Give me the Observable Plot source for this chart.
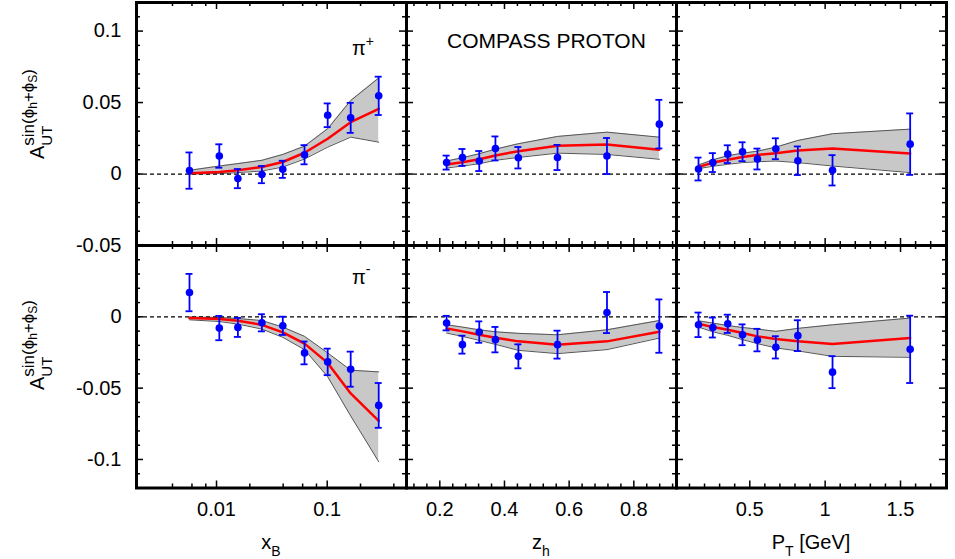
<!DOCTYPE html>
<html><head><meta charset="utf-8">
<script src="https://cdn.jsdelivr.net/npm/d3@7"></script>
<script src="https://cdn.jsdelivr.net/npm/@observablehq/plot@0.6"></script>
<style>
body{margin:0;background:#fff;}
#chart{position:relative;width:955px;height:559px;font-family:"Liberation Sans",Arial,sans-serif;}
#chart svg{position:absolute;left:0;top:0;}
</style></head><body><div id="chart"></div>
<script>
// ---------- data ----------
const xB = [0.0057, 0.0106, 0.0156, 0.0257, 0.0397, 0.0624, 0.101, 0.163, 0.292];
const zh = [0.221, 0.270, 0.322, 0.372, 0.443, 0.564, 0.717, 0.879];
const pT = [0.160, 0.255, 0.354, 0.452, 0.551, 0.673, 0.819, 1.049, 1.564];

// pi+ (top row)
const pipXbVal = [0.0024, 0.0126, -0.0032, -0.0004, 0.0033, 0.0135, 0.0411, 0.0393, 0.0547];
const pipXbErr = [0.0127, 0.0082, 0.0067, 0.0060, 0.0060, 0.0067, 0.0083, 0.0105, 0.0134];
const pipXbFit = [0.0005, 0.0014, 0.0026, 0.0049, 0.0084, 0.0149, 0.0247, 0.0363, 0.0456];
const pipXbHi  = [0.0026, 0.0056, 0.0073, 0.0096, 0.0137, 0.0195, 0.0317, 0.0514, 0.0672];
const pipXbLo  = [0.0000, 0.0003, 0.0010, 0.0021, 0.0049, 0.0105, 0.0188, 0.0258, 0.0223];

const pipZhVal = [0.0080, 0.0116, 0.0091, 0.0179, 0.0114, 0.0116, 0.0126, 0.0349];
const pipZhErr = [0.0049, 0.0059, 0.0070, 0.0084, 0.0075, 0.0088, 0.0126, 0.0170];
const pipZhFit = [0.0066, 0.0082, 0.0103, 0.0130, 0.0160, 0.0198, 0.0207, 0.0170];
const pipZhHi  = [0.0091, 0.0114, 0.0142, 0.0174, 0.0212, 0.0263, 0.0293, 0.0258];
const pipZhLo  = [0.0042, 0.0056, 0.0072, 0.0096, 0.0116, 0.0146, 0.0137, 0.0103];

const pipPtVal = [0.0035, 0.0080, 0.0139, 0.0156, 0.0105, 0.0177, 0.0093, 0.0026, 0.0209];
const pipPtErr = [0.0080, 0.0066, 0.0062, 0.0066, 0.0073, 0.0073, 0.0100, 0.0106, 0.0215];
const pipPtFit = [0.0049, 0.0080, 0.0100, 0.0119, 0.0133, 0.0146, 0.0165, 0.0179, 0.0144];
const pipPtHi  = [0.0063, 0.0100, 0.0128, 0.0146, 0.0160, 0.0188, 0.0235, 0.0282, 0.0314];
const pipPtLo  = [0.0038, 0.0054, 0.0068, 0.0080, 0.0086, 0.0091, 0.0080, 0.0056, 0.0010];

// pi- (bottom row)
const pimXbVal = [0.0170, -0.0079, -0.0074, -0.0042, -0.0063, -0.0253, -0.0316, -0.0367, -0.0621];
const pimXbErr = [0.0131, 0.0085, 0.0067, 0.0060, 0.0064, 0.0080, 0.0093, 0.0123, 0.0157];
const pimXbFit = [-0.0009, -0.0016, -0.0028, -0.0056, -0.0109, -0.0188, -0.0323, -0.0537, -0.0730];
const pimXbHi  = [-0.0002, -0.0005, -0.0012, -0.0026, -0.0072, -0.0137, -0.0253, -0.0374, -0.0386];
const pimXbLo  = [-0.0021, -0.0033, -0.0051, -0.0086, -0.0144, -0.0230, -0.0420, -0.0695, -0.1016];

const pimZhVal = [-0.0044, -0.0195, -0.0107, -0.0160, -0.0277, -0.0195, 0.0030, -0.0065];
const pimZhErr = [0.0051, 0.0063, 0.0075, 0.0089, 0.0084, 0.0098, 0.0144, 0.0187];
const pimZhFit = [-0.0081, -0.0102, -0.0126, -0.0146, -0.0172, -0.0195, -0.0172, -0.0105];
const pimZhHi  = [-0.0056, -0.0072, -0.0091, -0.0105, -0.0116, -0.0126, -0.0091, -0.0026];
const pimZhLo  = [-0.0114, -0.0137, -0.0165, -0.0193, -0.0235, -0.0258, -0.0230, -0.0149];

const pimPtVal = [-0.0056, -0.0075, -0.0049, -0.0126, -0.0163, -0.0214, -0.0132, -0.0388, -0.0228];
const pimPtErr = [0.0086, 0.0070, 0.0064, 0.0073, 0.0079, 0.0078, 0.0108, 0.0112, 0.0236];
const pimPtFit = [-0.0049, -0.0072, -0.0091, -0.0114, -0.0137, -0.0156, -0.0172, -0.0190, -0.0149];
const pimPtHi  = [-0.0028, -0.0044, -0.0061, -0.0075, -0.0086, -0.0102, -0.0081, -0.0056, -0.0009];
const pimPtLo  = [-0.0072, -0.0105, -0.0130, -0.0160, -0.0188, -0.0218, -0.0239, -0.0277, -0.0284];

// tick labels
const xbTickLabels = [0.01, 0.1];
const xbMinorTicks = [0.004, 0.006, 0.008, 0.02, 0.04, 0.06, 0.08, 0.2, 0.4];
const zhTickLabels = [0.2, 0.4, 0.6, 0.8];
const ptTickLabels = [0.5, 1, 1.5];
const yTopTickLabels = [0.1, 0.05, 0, -0.05];
const yBotTickLabels = [0, -0.05, -0.1];

// ---------- layout ----------
const W = 955, H = 559;
const colX = [136, 406, 676, 946];
const rowY = [2, 245, 487.5];
const BLUE = "#0000ff", RED = "#ff0000", BAND = "#c8c8c8";
const FONT = '"Liberation Sans", Arial, sans-serif';

const zhMinor = d3.range(0.12, 0.93, 0.04).filter(v => Math.abs((v * 5) - Math.round(v * 5)) > 1e-6);
const ptMinor = d3.range(0.1, 1.8, 0.1).filter(v => Math.abs((v * 2) - Math.round(v * 2)) > 1e-6);
const yTopMinor = d3.range(-0.04, 0.12, 0.01).filter(v => Math.abs(v * 20 - Math.round(v * 20)) > 1e-6);
const yBotMinor = d3.range(-0.11, 0.05, 0.01).filter(v => Math.abs(v * 20 - Math.round(v * 20)) > 1e-6);

const cols = [
  {type: "log", domain: [0.001893, 0.5204], x: xB, major: xbTickLabels, minor: xbMinorTicks},
  {type: "linear", domain: [0.097, 0.932], x: zh, major: zhTickLabels, minor: zhMinor},
  {type: "linear", domain: [0.014, 1.805], x: pT, major: ptTickLabels, minor: ptMinor}
];
const rows = [
  {domain: [-0.05, 0.12], major: [-0.05, 0, 0.05, 0.1], minor: yTopMinor, labels: yTopTickLabels,
   sets: [[pipXbVal, pipXbErr, pipXbFit, pipXbHi, pipXbLo],
          [pipZhVal, pipZhErr, pipZhFit, pipZhHi, pipZhLo],
          [pipPtVal, pipPtErr, pipPtFit, pipPtHi, pipPtLo]]},
  {domain: [-0.12, 0.05], major: [-0.1, -0.05, 0, 0.05], minor: yBotMinor, labels: yBotTickLabels,
   sets: [[pimXbVal, pimXbErr, pimXbFit, pimXbHi, pimXbLo],
          [pimZhVal, pimZhErr, pimZhFit, pimZhHi, pimZhLo],
          [pimPtVal, pimPtErr, pimPtFit, pimPtHi, pimPtLo]]}
];

const chart = document.getElementById("chart");

rows.forEach((row, r) => {
  cols.forEach((col, c) => {
    const [val, err, fit, hi, lo] = row.sets[c];
    const pts = col.x.map((x, i) => ({x, v: val[i], e: err[i], f: fit[i], hi: hi[i], lo: lo[i]}));
    const pw = colX[c + 1] - colX[c];
    const ph = rowY[r + 1] - rowY[r];
    const tk = {stroke: "black", strokeWidth: 1.5};
    const marks = [
      Plot.areaY(pts, {x: "x", y1: "lo", y2: "hi", fill: BAND}),
      Plot.line(pts, {x: "x", y: "hi", stroke: "#555", strokeWidth: 1}),
      Plot.line(pts, {x: "x", y: "lo", stroke: "#555", strokeWidth: 1}),
      Plot.ruleY([0], {y: d => d, stroke: "black", strokeWidth: 1.2, strokeDasharray: "4,3"}),
      Plot.line(pts, {x: "x", y: "f", stroke: RED, strokeWidth: 2.5}),
      Plot.ruleX(pts, {x: "x", y1: d => d.v - d.e, y2: d => d.v + d.e, stroke: BLUE, strokeWidth: 1.8}),
      Plot.ruleY(pts, {y: d => d.v - d.e, x1: "x", x2: "x", insetLeft: -3.5, insetRight: -3.5, stroke: BLUE, strokeWidth: 1.8}),
      Plot.ruleY(pts, {y: d => d.v + d.e, x1: "x", x2: "x", insetLeft: -3.5, insetRight: -3.5, stroke: BLUE, strokeWidth: 1.8}),
      Plot.dot(pts, {x: "x", y: "v", r: 3.8, fill: BLUE}),
      // inward ticks
      Plot.ruleX(col.major, {x: d => d, insetTop: ph - 7, ...tk}),
      Plot.ruleX(col.major, {x: d => d, insetBottom: ph - 7, ...tk}),
      Plot.ruleX(col.minor, {x: d => d, insetTop: ph - 4, ...tk}),
      Plot.ruleX(col.minor, {x: d => d, insetBottom: ph - 4, ...tk}),
      Plot.ruleY(row.major, {y: d => d, insetRight: pw - 7, ...tk}),
      Plot.ruleY(row.major, {y: d => d, insetLeft: pw - 7, ...tk}),
      Plot.ruleY(row.minor, {y: d => d, insetRight: pw - 4, ...tk}),
      Plot.ruleY(row.minor, {y: d => d, insetLeft: pw - 4, ...tk}),
      Plot.frame({stroke: "black", strokeWidth: 3})
    ];
    if (r === 1) marks.push(Plot.axisX(col.major, {anchor: "bottom", tickSize: 0, tickPadding: 14,
      tickFormat: d => String(d), fontSize: 20, label: null}));
    if (c === 0) marks.push(Plot.axisY(row.labels, {anchor: "left", tickSize: 0, tickPadding: 15,
      tickFormat: d => String(d), fontSize: 20, label: null}));
    const svg = Plot.plot({
      width: W, height: H,
      marginLeft: colX[c], marginRight: W - colX[c + 1],
      marginTop: rowY[r], marginBottom: H - rowY[r + 1],
      x: {type: col.type, domain: col.domain, axis: null},
      y: {domain: row.domain, axis: null},
      style: {background: "transparent", overflow: "visible", fontFamily: FONT},
      marks
    });
    chart.appendChild(svg);
  });
});

// ---------- titles and labels ----------
const ov = d3.select(chart).append("svg").attr("width", W).attr("height", H)
  .style("font-family", FONT).attr("fill", "black");

function sub(t, s, dy, size) { return t.append("tspan").attr("dy", dy).attr("font-size", size).text(s); }

// x titles
let t = ov.append("text").attr("x", 271).attr("y", 549).attr("text-anchor", "middle").attr("font-size", 20);
t.append("tspan").text("x"); sub(t, "B", 7, 14);
t = ov.append("text").attr("x", 541).attr("y", 549).attr("text-anchor", "middle").attr("font-size", 20);
t.append("tspan").text("z"); sub(t, "h", 7, 14);
t = ov.append("text").attr("x", 811).attr("y", 549).attr("text-anchor", "middle").attr("font-size", 20);
t.append("tspan").text("P"); sub(t, "T", 7, 14); sub(t, " [GeV]", -7, 20);

// y titles
function yTitle(x, y) {
  const tt = ov.append("text").attr("transform", `translate(${x},${y}) rotate(-90)`)
    .attr("font-size", 20).attr("text-anchor", "middle");
  tt.append("tspan").text("A");
  const ut = sub(tt, "UT", 8, 15);
  const w = ut.node().getComputedTextLength();
  tt.append("tspan").attr("dx", -w).attr("dy", -18).attr("font-size", 17).text("sin(ϕ");
  sub(tt, "h", 3, 12);
  sub(tt, "+ϕ", -3, 17);
  sub(tt, "S", 3, 12);
  sub(tt, ")", -3, 17);
}
yTitle(44, 114);
yTitle(44, 345);

// panel labels
t = ov.append("text").attr("x", 352).attr("y", 55).attr("font-size", 20);
t.append("tspan").text("π"); sub(t, "+", -9, 14);
t = ov.append("text").attr("x", 352).attr("y", 284).attr("font-size", 20);
t.append("tspan").text("π"); sub(t, "-", -10, 14);
ov.append("text").attr("x", 546.5).attr("y", 48).attr("text-anchor", "middle").attr("font-size", 21)
  .text("COMPASS PROTON");
</script></body></html>
